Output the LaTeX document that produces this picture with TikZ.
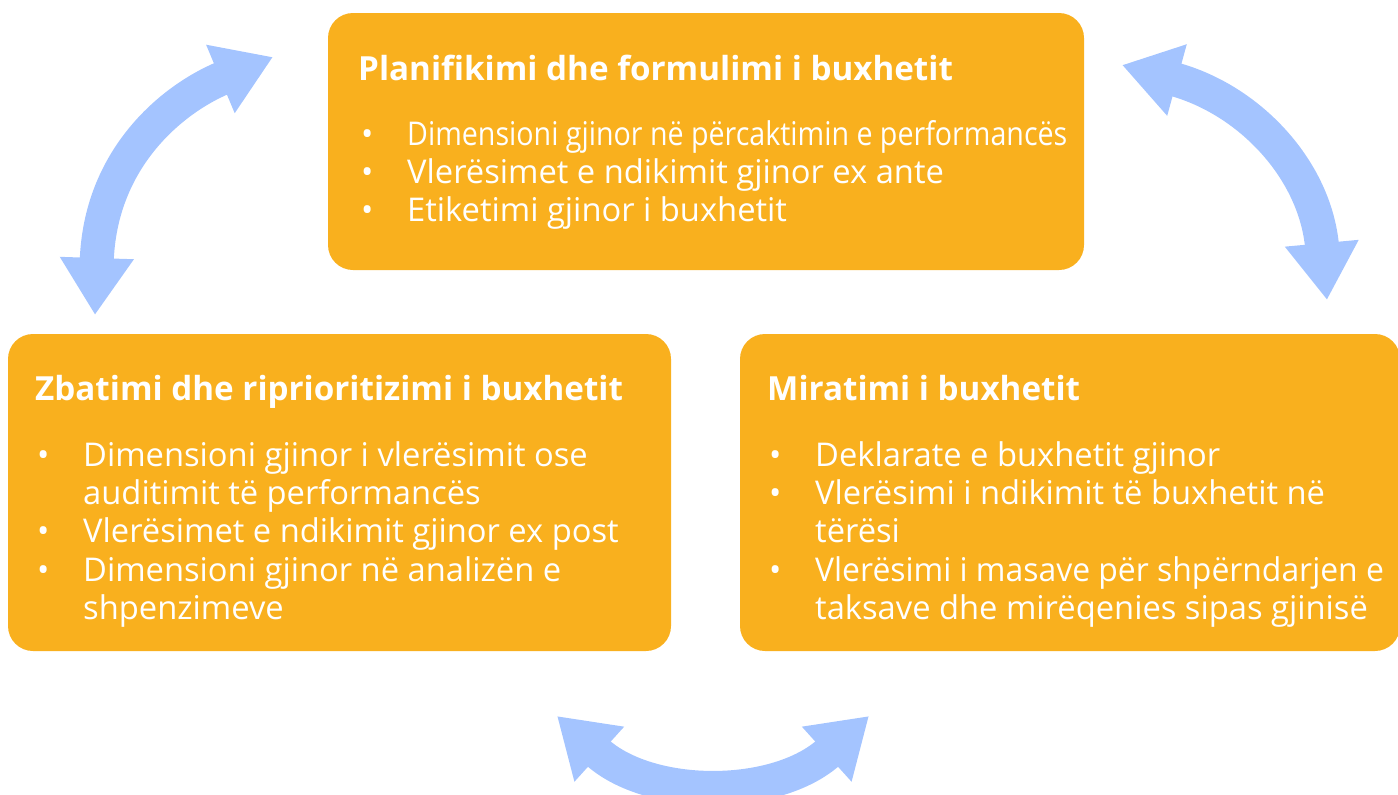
\documentclass[tikz,border=0pt]{standalone}
\usepackage{fontspec}
\setmainfont{Open Sans}
\usetikzlibrary{arrows.meta,positioning}

\definecolor{boxorange}{RGB}{249,176,30}
\definecolor{arrowblue}{RGB}{164,196,255}

\newcommand\bul{\makebox[46pt][l]{\textbullet}}
\newcommand\cont{\hspace*{46pt}}

\begin{document}
\begin{tikzpicture}[x=1pt,y=-1pt,
  box/.style={fill=boxorange, rounded corners=25pt, inner sep=0pt},
  head/.style={text=white, font=\fontsize{33.2}{38}\selectfont\bfseries, inner sep=0pt, anchor=base west},
  items/.style={text=white, font=\fontsize{32.7}{38.2}\selectfont, align=left, inner sep=0pt, anchor=north west},
  cyclearrow/.style={draw=arrowblue, line width=34pt,
    {Triangle[width=70pt,length=57pt]}-{Triangle[width=70pt,length=57pt]}}]
\useasboundingbox (0,0) rectangle (1398,795);

% the three stages
\node[box, minimum width=756pt, minimum height=257pt] (plan) at (706,141.5) {};
\node[box, minimum width=663pt, minimum height=317pt] (zbat) at (339.5,492.5) {};
\node[box, minimum width=660pt, minimum height=317pt] (mira) at (1070,492.5) {};

\node[head] (planH) at (358,80) {Planifikimi dhe formulimi i buxhetit};
\node[items] (planL) at (361,118.3) {\strut\bul \scalebox{0.875}[1]{Dimensioni gjinor në përcaktimin e performancës}\\
  \bul Vlerësimet e ndikimit gjinor ex ante\\
  \bul Etiketimi gjinor i buxhetit};

\node[head] (zbatH) at (35,400) {Zbatimi dhe riprioritizimi i buxhetit};
\node[items] (zbatL) at (37,439.5) {\strut\bul Dimensioni gjinor i vlerësimit ose\\
  \cont auditimit të performancës\\
  \bul Vlerësimet e ndikimit gjinor ex post\\
  \bul Dimensioni gjinor në analizën e\\
  \cont shpenzimeve};

\node[head] (miraH) at (767,400) {Miratimi i buxhetit};
\node[items] (miraL) at (769,439.5) {\strut\bul Deklarate e buxhetit gjinor\\
  \bul Vlerësimi i ndikimit të buxhetit në\\
  \cont tërësi\\
  \bul \scalebox{0.975}[1]{Vlerësimi i masave për shpërndarjen e}\\
  \cont taksave dhe mirëqenies sipas gjinisë};

% arrows between stages
\coordinate (zbatEnd) at (95,315);
\coordinate (planLeft) at (273,57);
\coordinate (planRight) at (1122,65);
\coordinate (miraEnd) at (1327,300);
\coordinate (zbatLow) at (557,716);
\coordinate (miraLow) at (869,716);

\draw[cyclearrow] (zbatEnd) .. controls (100,160) and (170,100) .. (planLeft);
\draw[cyclearrow] (planRight) .. controls (1250,100) and (1315,170) .. (miraEnd);
\draw[cyclearrow] (zbatLow) .. controls (650,800) and (776,800) .. (miraLow);
\end{tikzpicture}
\end{document}
